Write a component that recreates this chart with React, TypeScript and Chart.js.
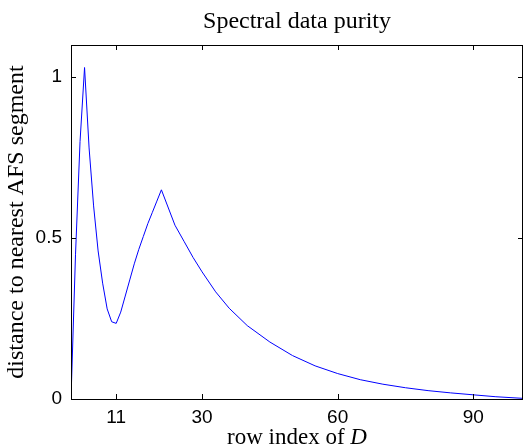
import React, { useEffect, useRef } from "react";
import { Chart, registerables } from "chart.js";

Chart.register(...registerables);

const rowIndex = [1, 2, 3, 4, 5, 6, 7, 8, 9, 10, 11, 12, 13, 14, 15, 16, 17, 18, 19, 20, 21, 24, 26, 28, 30, 33, 36, 40, 45, 50, 55, 60, 65, 70, 75, 80, 85, 90, 95, 101];
const distance = [0, 0.45, 0.8, 1.03, 0.78, 0.6, 0.46, 0.36, 0.28, 0.24, 0.235, 0.27, 0.32, 0.37, 0.42, 0.465, 0.505, 0.545, 0.58, 0.615, 0.65, 0.54, 0.49, 0.44, 0.395, 0.333, 0.282, 0.228, 0.177, 0.135, 0.103, 0.079, 0.06, 0.046, 0.035, 0.026, 0.019, 0.013, 0.007, 0.002];
const xTicks = [11, 30, 60, 90];
const yTicks = [0, 0.5, 1];
const titleText = "Spectral data purity";
const xLabelText = "row index of ";
const xLabelItalic = "D";
const yLabelText = "distance to nearest AFS segment";

const SERIF = "'Liberation Serif', 'Times New Roman', serif";
const SANS = "'Liberation Sans', Arial, sans-serif";

const decorPlugin = {
  id: "decor",
  afterDraw(chart: any) {
    const { ctx, chartArea } = chart;
    const { left, right, top, bottom } = chartArea;
    const xs = chart.scales.x;
    const ys = chart.scales.y;
    ctx.save();
    ctx.strokeStyle = "#000";
    ctx.lineWidth = 1;
    ctx.strokeRect(Math.round(left) + 0.5, Math.round(top) + 0.5, Math.round(right - left) - 1, Math.round(bottom - top));
    const tl = 5;
    ctx.beginPath();
    xTicks.forEach((v) => {
      const px = Math.round(xs.getPixelForValue(v)) + 0.5;
      ctx.moveTo(px, bottom);
      ctx.lineTo(px, bottom - tl);
      ctx.moveTo(px, top);
      ctx.lineTo(px, top + tl);
    });
    yTicks.forEach((v) => {
      const py = Math.round(ys.getPixelForValue(v)) + 0.5;
      ctx.moveTo(left, py);
      ctx.lineTo(left + tl, py);
      ctx.moveTo(right, py);
      ctx.lineTo(right - tl, py);
    });
    ctx.stroke();

    ctx.fillStyle = "#000";
    const cx = (left + right) / 2;
    ctx.font = `24px ${SERIF}`;
    ctx.textAlign = "center";
    ctx.textBaseline = "alphabetic";
    ctx.fillText(titleText, cx, 28);

    ctx.font = `23px ${SERIF}`;
    const w1 = ctx.measureText(xLabelText).width;
    ctx.font = `italic 23px ${SERIF}`;
    const w2 = ctx.measureText(xLabelItalic).width;
    const start = cx - (w1 + w2) / 2;
    ctx.textAlign = "left";
    ctx.font = `23px ${SERIF}`;
    ctx.fillText(xLabelText, start, 444);
    ctx.font = `italic 23px ${SERIF}`;
    ctx.fillText(xLabelItalic, start + w1, 444);

    ctx.translate(23, (top + bottom) / 2);
    ctx.rotate(-Math.PI / 2);
    ctx.textAlign = "center";
    ctx.font = `24px ${SERIF}`;
    ctx.fillText(yLabelText, 0, 0);
    ctx.restore();
  },
};

export default function App() {
  const ref = useRef<HTMLCanvasElement>(null);
  useEffect(() => {
    document.body.style.margin = "0";
    const chart = new Chart(ref.current!, {
      type: "line",
      data: {
        datasets: [
          {
            data: rowIndex.map((x, i) => ({ x, y: distance[i] })),
            borderColor: "#0000ff",
            borderWidth: 1,
            pointRadius: 0,
            tension: 0,
            fill: false,
          },
        ],
      },
      options: {
        animation: false,
        responsive: false,
        devicePixelRatio: 1,
        layout: { padding: { left: 0, right: 0, top: 45, bottom: 0 } },
        plugins: { legend: { display: false }, tooltip: { enabled: false }, title: { display: false } },
        scales: {
          x: {
            type: "linear",
            min: 1,
            max: 101,
            grid: { display: false, drawTicks: false },
            border: { display: false },
            afterBuildTicks: (s: any) => {
              s.ticks = xTicks.map((v) => ({ value: v }));
            },
            afterFit: (s: any) => {
              s.height = 48;
            },
            ticks: { color: "#000", font: { family: SANS, size: 19 }, padding: 7, maxRotation: 0, autoSkip: false },
          },
          y: {
            type: "linear",
            min: 0,
            max: 1.1,
            grid: { display: false, drawTicks: false },
            border: { display: false },
            afterBuildTicks: (s: any) => {
              s.ticks = yTicks.map((v) => ({ value: v }));
            },
            afterFit: (s: any) => {
              s.width = 71;
            },
            ticks: { color: "#000", font: { family: SANS, size: 19 }, padding: 9, callback: (v: any) => String(v) },
          },
        },
      },
      plugins: [decorPlugin],
    });
    return () => chart.destroy();
  }, []);
  return (
    <div style={{ position: "fixed", left: 0, top: 0, width: 523, height: 447, background: "#fff" }}>
      <canvas ref={ref} width={523} height={447} style={{ width: 523, height: 447 }} />
    </div>
  );
}
